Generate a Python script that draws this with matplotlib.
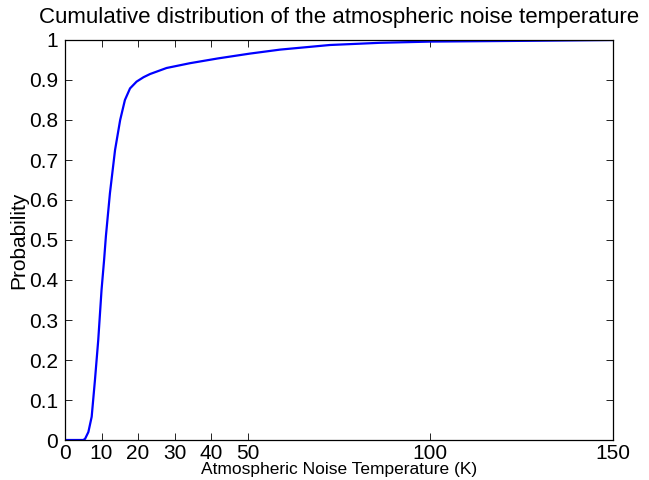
import matplotlib
matplotlib.use("Agg")
import matplotlib.pyplot as plt

temperature = [0, 5.0, 5.5, 6.4, 7.3, 8.2, 9.1, 10.0, 10.7, 11.2, 12.3, 13.7, 15.1, 16.4,
               17.8, 19.6, 21.5, 23.3, 27.8, 34.2, 41.9, 50.6, 58.9, 72.5, 86.2, 100, 127, 150]
probability = [0, 0, 0.003, 0.02, 0.058, 0.15, 0.25, 0.375, 0.45, 0.51, 0.617, 0.725, 0.8, 0.85,
               0.879, 0.896, 0.907, 0.915, 0.93, 0.942, 0.954, 0.966, 0.976, 0.9875, 0.993, 0.996, 0.998, 1.0]

xticks = [0, 10, 20, 30, 40, 50, 100, 150]
yticks = [0, 0.1, 0.2, 0.3, 0.4, 0.5, 0.6, 0.7, 0.8, 0.9, 1]
ytick_labels = ["0", "0.1", "0.2", "0.3", "0.4", "0.5", "0.6", "0.7", "0.8", "0.9", "1"]

plt.rcParams['font.family'] = ['Liberation Sans', 'DejaVu Sans']

fig = plt.figure(figsize=(6.49, 4.8), dpi=100)
ax = fig.add_axes([65/649, 1-440/480, (613-65)/649, 400/480])
ax.plot(temperature, probability, color='#0000ff', linewidth=1.6)
ax.set_xlim(0, 150)
ax.set_ylim(0, 1)
ax.set_xticks(xticks)
ax.set_xticklabels([str(t) for t in xticks])
ax.set_yticks(yticks)
ax.set_yticklabels(ytick_labels)
ax.tick_params(direction='in', top=True, right=True, length=5, width=0.6,
               labelsize=15)
ax.tick_params(axis='x', pad=3)
ax.tick_params(axis='y', pad=5)
for s in ax.spines.values():
    s.set_linewidth(0.9)
ax.set_title('Cumulative distribution of the atmospheric noise temperature',
             fontsize=16, pad=12)
ax.set_xlabel('Atmospheric Noise Temperature (K)', fontsize=12.5)
ax.xaxis.set_label_coords(0.5, -0.056)
ax.set_ylabel('Probability', fontsize=15)
ax.yaxis.set_label_coords(-0.0675, 0.5)

fig.savefig('out.png', dpi=100)
